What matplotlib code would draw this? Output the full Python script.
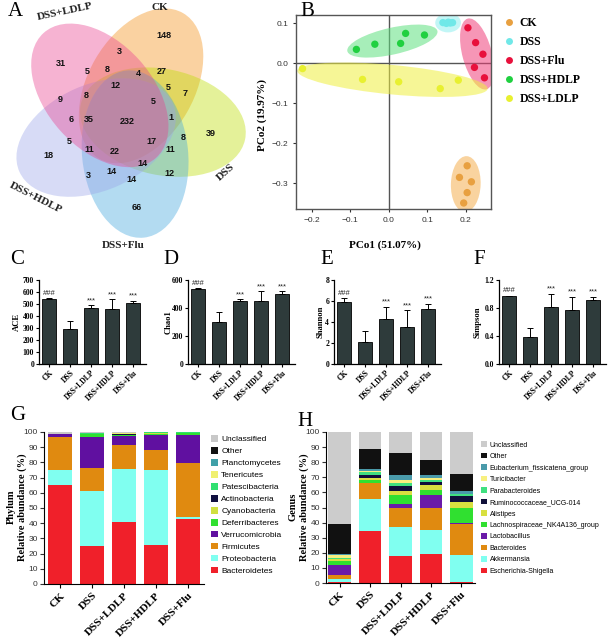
import numpy as np
import matplotlib.pyplot as plt
from matplotlib.patches import Ellipse, Patch
from matplotlib.lines import Line2D

W, H = 608, 639
SERIF = 'Liberation Serif'
SANS = 'Liberation Sans'
plt.rcParams['font.family'] = SANS

# ---- A: venn ----
venn_sets = ['CK', 'DSS', 'DSS+Flu', 'DSS+HDLP', 'DSS+LDLP']
venn_colors = ['#F49016', '#BCDE00', '#42A6DE', '#9BA6E9', '#E94290']
venn_counts = [148, 3, 31, 5, 8, 4, 27, 12, 8, 5, 7, 9, 5, 6, 35, 232, 1, 8, 39,
               17, 5, 11, 22, 11, 18, 14, 12, 3, 14, 14, 66]
venn_xy = [(164, 35), (119, 52), (61, 63), (87, 72), (107, 69), (138, 74), (162, 72),
           (115, 85), (86, 95), (168, 88), (185, 94), (60, 100), (153, 102), (71, 120),
           (89, 119), (127, 121), (171, 117), (183, 137), (211, 133), (151, 142),
           (69, 142), (89, 150), (115, 152), (170, 150), (48, 156), (142, 164),
           (169, 173), (88, 176), (111, 172), (131, 180), (137, 208)]
venn_label_xy = [(160, 8), (226, 172), (123, 245), (36, 198), (65, 12)]
venn_label_rot = [0, 42, 0, -27, 12]

# ---- B: PCoA ----
pcoa_groups = ['CK', 'DSS', 'DSS+Flu', 'DSS+HDLP', 'DSS+LDLP']
pc1 = [[0.204, 0.184, 0.215, 0.204, 0.195],
       [0.141, 0.150, 0.155, 0.160, 0.166],
       [0.206, 0.226, 0.245, 0.223, 0.249],
       [-0.084, -0.036, 0.031, 0.044, 0.093],
       [-0.224, -0.068, 0.026, 0.134, 0.181]]
pc2 = [[-0.256, -0.285, -0.296, -0.323, -0.349],
       [0.102, 0.100, 0.103, 0.101, 0.102],
       [0.089, 0.052, 0.023, -0.010, -0.036],
       [0.035, 0.048, 0.050, 0.075, 0.071],
       [-0.013, -0.040, -0.046, -0.063, -0.042]]
pcoa_pt_colors = ['#E8A040', '#70E8E8', '#E8103C', '#20D040', '#E8F030']
pcoa_ell_colors = ['#F5B050', '#90F0F0', '#F0407A', '#60E080', '#F0F040']

# ---- C-F: alpha diversity ----
groups = ['CK', 'DSS', 'DSS+LDLP', 'DSS+HDLP', 'DSS+Flu']
sig = ['###', '', '***', '***', '***']
ace_mean = [545, 295, 470, 455, 510]
ace_sd = [5, 60, 20, 85, 15]
chao1_mean = [535, 297, 447, 448, 500]
chao1_sd = [8, 75, 15, 70, 18]
shannon_mean = [5.9, 2.1, 4.25, 3.55, 5.25]
shannon_sd = [0.35, 1.05, 1.2, 1.55, 0.45]
simpson_mean = [0.965, 0.39, 0.82, 0.765, 0.915]
simpson_sd = [0.01, 0.13, 0.18, 0.19, 0.04]

# ---- G: phylum (bottom -> top) ----
phylum_names = ['Bacteroidetes', 'Proteobacteria', 'Firmicutes', 'Verrucomicrobia',
                'Deferribacteres', 'Cyanobacteria', 'Actinobacteria', 'Patescibacteria',
                'Tenericutes', 'Planctomycetes', 'Other', 'Unclassified']
phylum_colors = ['#F0202A', '#80FFF0', '#E08A10', '#6010A0', '#30E030', '#D0E040',
                 '#101040', '#30E070', '#F0F070', '#40A0A8', '#111111', '#C8C8C8']
phy_ck = [65.0, 10.0, 22.0, 1.5, 0.0, 0.1, 0.1, 0.0, 0.0, 0.1, 0.2, 1.0]
phy_dss = [25.0, 36.0, 15.0, 21.0, 1.5, 0.2, 0.3, 0.2, 0.1, 0.1, 0.2, 0.4]
phy_ldlp = [41.0, 34.5, 16.2, 5.8, 0.4, 0.3, 0.6, 0.2, 0.2, 0.1, 0.2, 0.5]
phy_hdlp = [25.7, 49.0, 13.2, 10.3, 0.5, 0.8, 0.1, 0.1, 0.2, 0.0, 0.0, 0.1]
phy_flu = [42.5, 1.5, 35.8, 18.3, 1.2, 0.1, 0.1, 0.2, 0.1, 0.0, 0.0, 0.2]

# ---- H: genus (bottom -> top) ----
genus_names = ['Escherichia-Shigella', 'Akkermansia', 'Bacteroides', 'Lactobacillus',
               'Lachnospiraceae_NK4A136_group', 'Alistipes', 'Ruminococcaceae_UCG-014',
               'Parabacteroides', 'Turicibacter', 'Eubacterium_fissicatena_group',
               'Other', 'Unclassified']
genus_colors = ['#F0202A', '#80FFF0', '#E08A10', '#6A1AA8', '#30E030', '#D8E040',
                '#10103A', '#40E080', '#F8F080', '#4A9AAA', '#111111', '#CCCCCC']
gen_ck = [0.4, 2.2, 3.0, 6.5, 2.5, 1.2, 0.3, 0.6, 1.8, 1.0, 19.8, 60.7]
gen_dss = [34.7, 21.1, 10.4, 0.3, 1.5, 1.7, 2.0, 1.5, 1.0, 1.6, 12.9, 11.3]
gen_ldlp = [18.1, 19.0, 12.6, 2.8, 6.0, 2.6, 2.9, 2.2, 2.2, 3.3, 14.4, 13.9]
gen_hdlp = [19.4, 15.9, 14.4, 8.3, 3.8, 3.3, 1.5, 1.8, 0.9, 2.4, 9.5, 18.8]
gen_flu = [0.5, 18.2, 20.3, 0.7, 10.0, 3.9, 4.2, 1.0, 0.4, 1.9, 11.3, 27.6]

fig = plt.figure(figsize=(W / 100, H / 100), dpi=100)


def box(x0, y0, x1, y1):
    # axes placed by pixel edges (top-left origin)
    return fig.add_axes([x0 / W, 1 - y1 / H, (x1 - x0) / W, (y1 - y0) / H])


def ftext(x, y, s, **kw):
    fig.text(x / W, 1 - y / H, s, **kw)


for lab, (px, py) in zip('ABCDEFGH', [(8, 12), (300, 12), (10, 259), (163, 259),
                                      (320, 259), (473, 259), (10, 416), (297, 421)]):
    ftext(px, py, lab, family=SERIF, fontsize=15, va='center', ha='left')

# ---------------- A ----------------
axA = box(0, 0, 250, 255)
axA.set_xlim(0, 250)
axA.set_ylim(255, 0)
axA.axis('off')
cx, cy, r, a, b = 127, 119, 36, 84, 53
for i, col in enumerate(venn_colors):
    d = np.radians(293 + 72 * i)
    axA.add_patch(Ellipse((cx + r * np.cos(d), cy + r * np.sin(d)), 2 * a, 2 * b,
                          angle=120 + 72 * i, color=col, alpha=0.4, lw=0))
for n, (px, py) in zip(venn_counts, venn_xy):
    axA.text(px, py, str(n), ha='center', va='center', fontsize=6.5,
             fontweight='bold', family=SANS, color='#111111')
for s, (px, py), rot in zip(venn_sets, venn_label_xy, venn_label_rot):
    axA.text(px, py, s, ha='center', va='center', rotation=rot, fontsize=8,
             fontweight='bold', family=SERIF, color='#222222')

# ---------------- B ----------------
axB = box(296, 15, 491, 209)
axB.set_xlim(-0.241, 0.266)
axB.set_ylim(-0.364, 0.121)
axB.axhline(0, color='#555555', lw=1, zorder=0)
axB.axvline(0, color='#555555', lw=1, zorder=0)
for xs, ys, pc, ec in zip(pc1, pc2, pcoa_pt_colors, pcoa_ell_colors):
    xs, ys = np.asarray(xs), np.asarray(ys)
    vals, vecs = np.linalg.eigh(np.cov(xs, ys))
    ang = np.degrees(np.arctan2(vecs[1, 1], vecs[0, 1]))
    axB.add_patch(Ellipse((xs.mean(), ys.mean()), 2 * 1.4 * np.sqrt(vals[1]) + 0.04,
                          2 * 1.4 * np.sqrt(vals[0]) + 0.045, angle=ang,
                          color=ec, alpha=0.55, lw=0, zorder=1))
    axB.scatter(xs, ys, s=28, color=pc, edgecolor='none', zorder=3)
axB.set_xticks([-0.2, -0.1, 0.0, 0.1, 0.2])
axB.set_yticks([0.1, 0.0, -0.1, -0.2, -0.3])
axB.xaxis.set_major_formatter('{x:.1f}')
axB.yaxis.set_major_formatter('{x:.1f}')
axB.tick_params(labelsize=6, colors='#333333', length=2, width=0.8)
for sp in axB.spines.values():
    sp.set_color('#555555')
    sp.set_linewidth(1)
ftext(385, 245, 'PCo1 (51.07%)', family=SERIF, fontweight='bold', fontsize=8,
      ha='center', va='center')
ftext(262, 115, 'PCo2 (19.97%)', family=SERIF, fontweight='bold', fontsize=8,
      ha='center', va='center', rotation=90)
handles = [Line2D([], [], ls='none', marker='o', markersize=5, color=c,
                  markeredgecolor='none') for c in pcoa_pt_colors]
axB.legend(handles, pcoa_groups, loc='upper left', bbox_to_anchor=(497 / W, 1 - 11 / H),
           bbox_transform=fig.transFigure, frameon=False, borderpad=0,
           handletextpad=0.4, labelspacing=0.6, handlelength=1.0,
           prop={'family': SERIF, 'weight': 'bold', 'size': 8.5})

# ---------------- C-F ----------------
panels = [
    (39, 146, ace_mean, ace_sd, [0, 100, 200, 300, 400, 500, 600, 700], 'ACE', '{x:.0f}', 17),
    (188, 295, chao1_mean, chao1_sd, [0, 200, 400, 600], 'Chao1', '{x:.0f}', 169),
    (334, 441, shannon_mean, shannon_sd, [0, 2, 4, 6, 8], 'Shannon', '{x:.0f}', 321),
    (499, 606, simpson_mean, simpson_sd, [0.0, 0.4, 0.8, 1.2], 'Simpson', '{x:.1f}', 478),
]
for x0, x1, means, sds, yt, ylab, fmt, lx in panels:
    ax = box(x0, 280, x1, 364)
    xx = np.arange(len(groups))
    ax.bar(xx, means, width=0.66, color='#2E3B3B', edgecolor='black', lw=0.6, zorder=2)
    ax.errorbar(xx, means, yerr=[np.zeros(len(sds)), sds], fmt='none', ecolor='black',
                elinewidth=0.7, capsize=2, capthick=0.7, zorder=3)
    for xi, m, s, t in zip(xx, means, sds, sig):
        ax.text(xi, m + s + yt[-1] * 0.015, t, ha='center', va='bottom', fontsize=5.5,
                color='#222222')
    ax.set_xlim(-0.48, 4.6)
    ax.set_ylim(0, yt[-1])
    ax.set_yticks(yt)
    ax.yaxis.set_major_formatter(fmt)
    ax.set_xticks(xx)
    ax.set_xticklabels(groups, rotation=45, ha='right', rotation_mode='anchor')
    ax.tick_params(length=2, width=0.8, pad=1.5, labelsize=5.5)
    for t in ax.get_xticklabels() + ax.get_yticklabels():
        t.set_family(SERIF)
        t.set_fontweight('bold')
    for sp in ['top', 'right']:
        ax.spines[sp].set_visible(False)
    ax.spines['left'].set_linewidth(0.9)
    ax.spines['bottom'].set_linewidth(0.9)
    ftext(lx, 322, ylab, family=SERIF, fontweight='bold', fontsize=6.2, rotation=90,
          ha='center', va='center')


# ---------------- G / H ----------------
def stacked(ax, data, colors, names, width, xlim, leg_xy, leg_fs, leg_sp, ylab, ylab_x):
    mat = np.column_stack(data)
    xx = np.arange(mat.shape[1])
    bottom = np.zeros(mat.shape[1])
    for row, col in zip(mat, colors):
        ax.bar(xx, row, bottom=bottom, width=width, color=col, lw=0)
        bottom += row
    ax.set_xlim(*xlim)
    ax.set_ylim(0, 100)
    ax.set_yticks(np.arange(0, 101, 10))
    ax.set_xticks(xx)
    ax.set_xticklabels(groups, rotation=45, ha='right', rotation_mode='anchor',
                       family=SERIF, fontweight='bold', fontsize=8)
    ax.tick_params(axis='y', labelsize=6, colors='#333333', length=3, width=0.8, pad=1.5)
    ax.tick_params(axis='x', length=3, width=0.8, pad=2)
    for sp in ['top', 'right']:
        ax.spines[sp].set_visible(False)
    hs = [Patch(facecolor=c, edgecolor='none') for c in colors[::-1]]
    ax.legend(hs, names[::-1], loc='upper left', bbox_to_anchor=leg_xy,
              bbox_transform=fig.transFigure, frameon=False, borderpad=0,
              handlelength=0.85, handleheight=0.85, handletextpad=0.35,
              labelspacing=leg_sp, fontsize=leg_fs)
    ftext(ylab_x, 507, ylab, family=SERIF, fontweight='bold', fontsize=7.5,
          rotation=90, ha='center', va='center', linespacing=1.2)


axG = box(44, 432, 204, 584)
stacked(axG, [phy_ck, phy_dss, phy_ldlp, phy_hdlp, phy_flu], phylum_colors, phylum_names,
        0.78, (-0.5, 4.5), (207 / W, 1 - 431 / H), 6, 0.45,
        'Phylum\nRelative abundance (%)', 17)

axH = box(326, 432, 475, 583)
stacked(axH, [gen_ck, gen_dss, gen_ldlp, gen_hdlp, gen_flu], genus_colors, genus_names,
        0.75, (-0.45, 4.45), (478 / W, 1 - 438 / H), 5.0, 0.62,
        'Genus\nRelative abundance (%)', 299)

fig.savefig('out.png', dpi=100)
